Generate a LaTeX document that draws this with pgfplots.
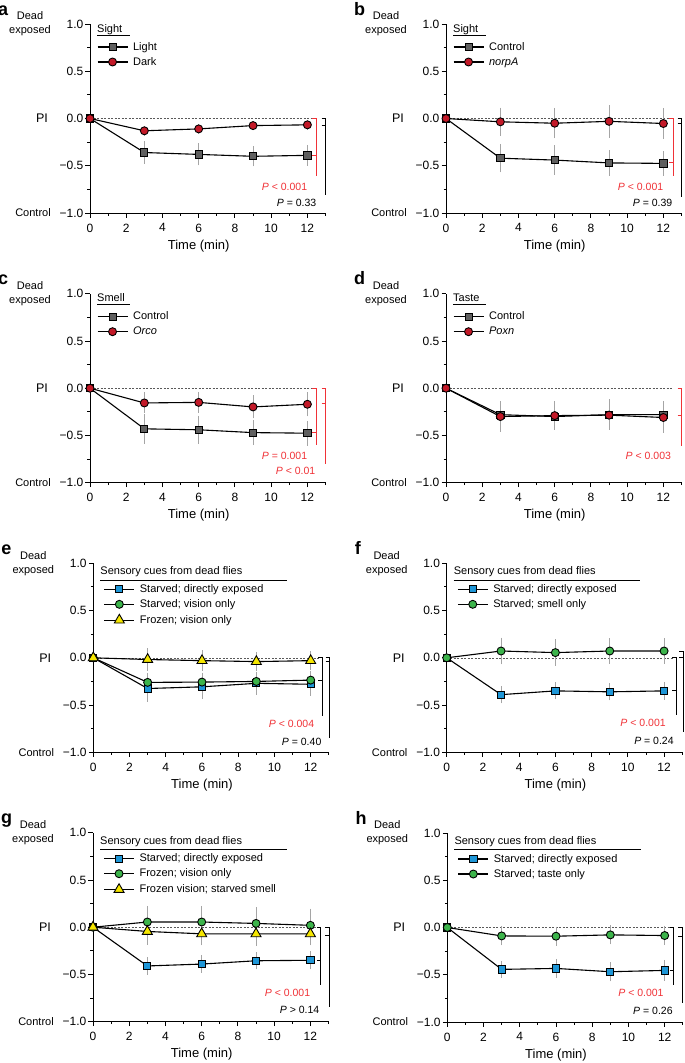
\documentclass[border=0pt]{standalone}
\usepackage{fontspec}
\setmainfont{Liberation Sans}
\usepackage{pgfplots}
\pgfplotsset{compat=1.18}

\definecolor{cgray}{RGB}{95,95,95}
\definecolor{cred}{RGB}{195,25,40}
\definecolor{cblue}{RGB}{30,150,215}
\definecolor{cgreen}{RGB}{60,180,75}
\definecolor{cyel}{RGB}{245,230,0}
\definecolor{pred}{RGB}{240,50,55}
\definecolor{cerr}{RGB}{165,165,165}

\newcommand{\lblfont}{\fontsize{11}{14}\selectfont}
\newcommand{\legfont}{\fontsize{11}{11}\selectfont}
\newcommand{\pfont}{\fontsize{10.5}{10.5}\selectfont}

\pgfplotsset{
  panel/.style={
    scale only axis, width=235.5pt, height=189pt, anchor=south west,
    xmin=0, xmax=13, ymin=-1, ymax=1, clip=false,
    axis lines=left, axis line style={-, line width=0.9pt},
    tick align=outside, major tick length=4.5pt, minor tick length=2.5pt,
    every tick/.style={black, line width=0.9pt},
    xtick={0,2,...,12}, xticklabels={0,2,4,6,8,10,12},
    minor xtick={1,3,...,13},
    ytick={-1,-0.5,0,0.5,1}, yticklabels={−1.0,−0.5,0.0,0.5,1.0},
    minor ytick={-0.75,-0.25,0.25,0.75},
    tick label style={font=\fontsize{12}{12}\selectfont},
    yticklabel style={inner sep=2pt},
    xticklabel style={inner sep=0pt, yshift=-6pt},
    legend cell align=left,
    legend image code/.code={\draw[mark repeat=2,mark phase=2] plot coordinates {(0pt,0pt) (15pt,0pt) (30pt,0pt)};},
    legend style={draw=none, fill=none, at={(0,1)}, anchor=north west,
      inner sep=0pt, outer sep=0pt, row sep=5pt, font=\legfont,
      nodes={inner sep=0pt, text height=8pt, text depth=2pt},
      /tikz/every odd column/.append style={column sep=5pt}},
  },
  ser/.style={black, line width=1.1pt,
    /pgfplots/error bars/y dir=both, /pgfplots/error bars/y explicit,
    /pgfplots/error bars/error bar style={cerr, line width=0.7pt},
    /pgfplots/error bars/error mark options={cerr, line width=0.7pt, mark size=2pt}},
  sqg/.style={ser, mark=square*, mark size=3.6pt, mark options={solid, draw=black, line width=0.9pt, fill=cgray}},
  cir/.style={ser, mark=*, mark size=4pt, mark options={solid, draw=black, line width=0.9pt, fill=cred}},
  sqb/.style={ser, mark=square*, mark size=3.6pt, mark options={solid, draw=black, line width=0.9pt, fill=cblue}},
  cig/.style={ser, mark=*, mark size=4pt, mark options={solid, draw=black, line width=0.9pt, fill=cgreen}},
  tri/.style={ser, mark=triangle*, mark size=5.8pt, mark options={solid, draw=black, line width=0.9pt, fill=cyel}},
}

% labels shared by every panel
\newcommand{\common}[1]{%
  \draw[black!65, line width=0.6pt, dash pattern=on 2pt off 1.5pt] (axis cs:0,0) -- (axis cs:12.5,0);
  \node[anchor=base west, inner sep=0pt, font=\bfseries\fontsize{18}{18}\selectfont] at ([xshift=-92pt, yshift=9pt]axis cs:0,1) {#1};
  \node[align=center, inner sep=0pt, font=\lblfont] at ([xshift=-60pt]axis cs:0,1) {Dead\\exposed};
  \node[inner sep=0pt, font=\fontsize{12.5}{12.5}\selectfont] at ([xshift=-48pt]axis cs:0,0) {PI};
  \node[inner sep=0pt, font=\lblfont] at ([xshift=-57pt]axis cs:0,-1) {Control};
  \node[anchor=base, inner sep=0pt, font=\fontsize{13}{13}\selectfont] at ([yshift=-36pt]axis cs:6,-1) {Time (min)};
}
% short legend title (Sight / Smell / Taste)
\newcommand{\stitle}[1]{%
  \node[anchor=base west, inner sep=0pt, font=\legfont] at ([xshift=7pt, yshift=-8pt]axis cs:0,1) {#1};
  \draw[line width=0.6pt] ([xshift=7pt, yshift=-11pt]axis cs:0,1) -- ([xshift=39.5pt, yshift=-11pt]axis cs:0,1);
}
\newcommand{\ltitle}{%
  \node[anchor=base west, inner sep=0pt, font=\legfont] at ([xshift=7pt, yshift=-11.5pt]axis cs:0,1) {Sensory cues from dead flies};
  \draw[line width=0.6pt] ([xshift=7pt, yshift=-16.5pt]axis cs:0,1) -- ([xshift=193.5pt, yshift=-16.5pt]axis cs:0,1);
}
% bracket: colour, x, top, tick, bottom
\newcommand{\brk}[5]{%
  \draw[#1, line width=1pt] ([xshift=-4pt]axis cs:#2,#3) -- (axis cs:#2,#3) -- (axis cs:#2,#5);
  \draw[#1, line width=1pt] ([xshift=-4pt]axis cs:#2,#4) -- (axis cs:#2,#4);
}
\newcommand{\pv}[4]{\node[anchor=east, inner sep=0pt, text=#1, font=\pfont] at (axis cs:#2,#3) {#4};}

\begin{document}
\begin{tikzpicture}
\useasboundingbox (0,0) rectangle (685pt,-1063pt);

% a
\begin{axis}[panel, at={(90pt,-213pt)}, legend style={xshift=7pt, yshift=-18pt}]
\common{a}
\addplot[sqg] coordinates {(0,0) +- (0,0) (3,-0.36) +- (0,0.10) (6,-0.38) +- (0,0.095) (9,-0.40) +- (0,0.085) (12,-0.39) +- (0,0.09)};
\addplot[cir] coordinates {(0,0) +- (0,0) (3,-0.13) +- (0,0.03) (6,-0.11) +- (0,0.03) (9,-0.075) +- (0,0.03) (12,-0.067) +- (0,0.03)};
\legend{Light, Dark}
\stitle{Sight}
\brk{pred}{12.5}{0}{-0.39}{-0.61}
\brk{black}{13.0}{0}{-0.07}{-0.81}
\pv{pred}{12}{-0.72}{\textit{P} < 0.001}
\pv{black}{12.5}{-0.89}{\textit{P} = 0.33}
\end{axis}

% b
\begin{axis}[panel, at={(446pt,-213pt)}, legend style={xshift=7pt, yshift=-18pt}]
\common{b}
\addplot[sqg] coordinates {(0,0) +- (0,0) (3,-0.42) +- (0,0.13) (6,-0.44) +- (0,0.135) (9,-0.47) +- (0,0.115) (12,-0.475) +- (0,0.11)};
\addplot[cir] coordinates {(0,0) +- (0,0) (3,-0.035) +- (0,0.13) (6,-0.05) +- (0,0.14) (9,-0.03) +- (0,0.15) (12,-0.053) +- (0,0.145)};
\legend{Control, \textit{norpA}}
\stitle{Sight}
\brk{pred}{12.55}{0}{-0.47}{-0.61}
\brk{black}{13.0}{0}{-0.05}{-0.83}
\pv{pred}{12}{-0.72}{\textit{P} < 0.001}
\pv{black}{12.5}{-0.89}{\textit{P} = 0.39}
\end{axis}

% c
\begin{axis}[panel, at={(90pt,-482.7pt)}, legend style={xshift=7pt, yshift=-18pt}]
\common{c}
\addplot[sqg] coordinates {(0,0) +- (0,0) (3,-0.43) +- (0,0.134) (6,-0.44) +- (0,0.13) (9,-0.47) +- (0,0.11) (12,-0.476) +- (0,0.11)};
\addplot[cir] coordinates {(0,0) +- (0,0) (3,-0.156) +- (0,0.09) (6,-0.15) +- (0,0.09) (9,-0.198) +- (0,0.10) (12,-0.17) +- (0,0.107)};
\legend{Control, \textit{Orco}}
\stitle{Smell}
\brk{pred}{12.5}{0}{-0.47}{-0.60}
\brk{pred}{13.0}{0}{-0.16}{-0.80}
\pv{pred}{12}{-0.72}{\textit{P} = 0.001}
\pv{pred}{12.45}{-0.88}{\textit{P} < 0.01}
\end{axis}

% d
\begin{axis}[panel, at={(446pt,-482.7pt)}, legend style={xshift=7pt, yshift=-18pt}]
\common{d}
\addplot[sqg] coordinates {(0,0) +- (0,0) (3,-0.28) +- (0,0.10) (6,-0.30) +- (0,0.12) (9,-0.28) +- (0,0.14) (12,-0.28) +- (0,0.12)};
\addplot[cir] coordinates {(0,0) +- (0,0) (3,-0.30) +- (0,0.14) (6,-0.29) +- (0,0.13) (9,-0.285) +- (0,0.13) (12,-0.31) +- (0,0.14)};
\legend{Control, \textit{Poxn}}
\stitle{Taste}
\brk{pred}{13.0}{0}{-0.29}{-0.61}
\pv{pred}{12.43}{-0.72}{\textit{P} < 0.003}
\end{axis}

% e
\begin{axis}[panel, at={(93.3pt,-752.3pt)}, legend style={xshift=10.5pt, yshift=-21pt}]
\common{e}
\addplot[sqb] coordinates {(0,0) +- (0,0) (3,-0.325) +- (0,0.12) (6,-0.307) +- (0,0.11) (9,-0.27) +- (0,0.10) (12,-0.28) +- (0,0.10)};
\addplot[cig] coordinates {(0,0) +- (0,0) (3,-0.26) +- (0,0.08) (6,-0.257) +- (0,0.08) (9,-0.25) +- (0,0.08) (12,-0.236) +- (0,0.08)};
\addplot[tri] coordinates {(0,0) +- (0,0) (3,-0.018) +- (0,0.10) (6,-0.03) +- (0,0.09) (9,-0.04) +- (0,0.08) (12,-0.03) +- (0,0.08)};
\legend{Starved; directly exposed, Starved; vision only, Frozen; vision only}
\ltitle
\brk{black}{12.65}{0}{-0.24}{-0.62}
\brk{black}{13.05}{0}{-0.04}{-0.85}
\pv{pred}{12.2}{-0.70}{\textit{P} < 0.004}
\pv{black}{12.6}{-0.89}{\textit{P} = 0.40}
\end{axis}

% f
\begin{axis}[panel, at={(446.7pt,-752.3pt)}, legend style={xshift=10.5pt, yshift=-21pt}]
\common{f}
\addplot[sqb] coordinates {(0,0) +- (0,0) (3,-0.39) +- (0,0.07) (6,-0.35) +- (0,0.07) (9,-0.36) +- (0,0.07) (12,-0.35) +- (0,0.075)};
\addplot[cig] coordinates {(0,0) +- (0,0) (3,0.072) +- (0,0.12) (6,0.055) +- (0,0.12) (9,0.072) +- (0,0.115) (12,0.072) +- (0,0.115)};
\legend{Starved; directly exposed, Starved; smell only}
\ltitle
\brk{black}{12.67}{0}{-0.35}{-0.61}
\brk{black}{13.05}{0.07}{0}{-0.78}
\pv{pred}{12.1}{-0.69}{\textit{P} < 0.001}
\pv{black}{12.54}{-0.88}{\textit{P} = 0.24}
\end{axis}

% g
\begin{axis}[panel, at={(93pt,-1021.7pt)}, legend style={xshift=10.5pt, yshift=-21pt}]
\common{g}
\addplot[sqb] coordinates {(0,0) +- (0,0) (3,-0.41) +- (0,0.07) (6,-0.39) +- (0,0.07) (9,-0.355) +- (0,0.07) (12,-0.35) +- (0,0.075)};
\addplot[cig] coordinates {(0,0) +- (0,0) (3,0.055) +- (0,0.15) (6,0.055) +- (0,0.15) (9,0.04) +- (0,0.15) (12,0.02) +- (0,0.155)};
\addplot[tri] coordinates {(0,0) +- (0,0) (3,-0.045) +- (0,0.12) (6,-0.07) +- (0,0.10) (9,-0.07) +- (0,0.11) (12,-0.07) +- (0,0.10)};
\legend{Starved; directly exposed, Frozen; vision only, Frozen vision; starved smell}
\ltitle
\brk{black}{12.58}{0}{-0.35}{-0.61}
\brk{black}{13.05}{0}{-0.09}{-0.84}
\pv{pred}{12.0}{-0.69}{\textit{P} < 0.001}
\pv{black}{12.5}{-0.88}{\textit{P} > 0.14}
\end{axis}

% h
\begin{axis}[panel, at={(447.3pt,-1022pt)}, legend style={xshift=10.5pt, yshift=-21pt}]
\common{h}
\addplot[sqb] coordinates {(0,0) +- (0,0) (3,-0.443) +- (0,0.07) (6,-0.433) +- (0,0.08) (9,-0.468) +- (0,0.08) (12,-0.454) +- (0,0.09)};
\addplot[cig] coordinates {(0,0) +- (0,0) (3,-0.089) +- (0,0.08) (6,-0.092) +- (0,0.08) (9,-0.078) +- (0,0.08) (12,-0.085) +- (0,0.08)};
\legend{Starved; directly exposed, Starved; taste only}
\ltitle
\brk{black}{12.5}{0}{-0.46}{-0.61}
\brk{black}{12.98}{0}{-0.09}{-0.80}
\pv{pred}{11.95}{-0.69}{\textit{P} < 0.001}
\pv{black}{12.45}{-0.88}{\textit{P} = 0.26}
\end{axis}
\end{tikzpicture}
\end{document}
